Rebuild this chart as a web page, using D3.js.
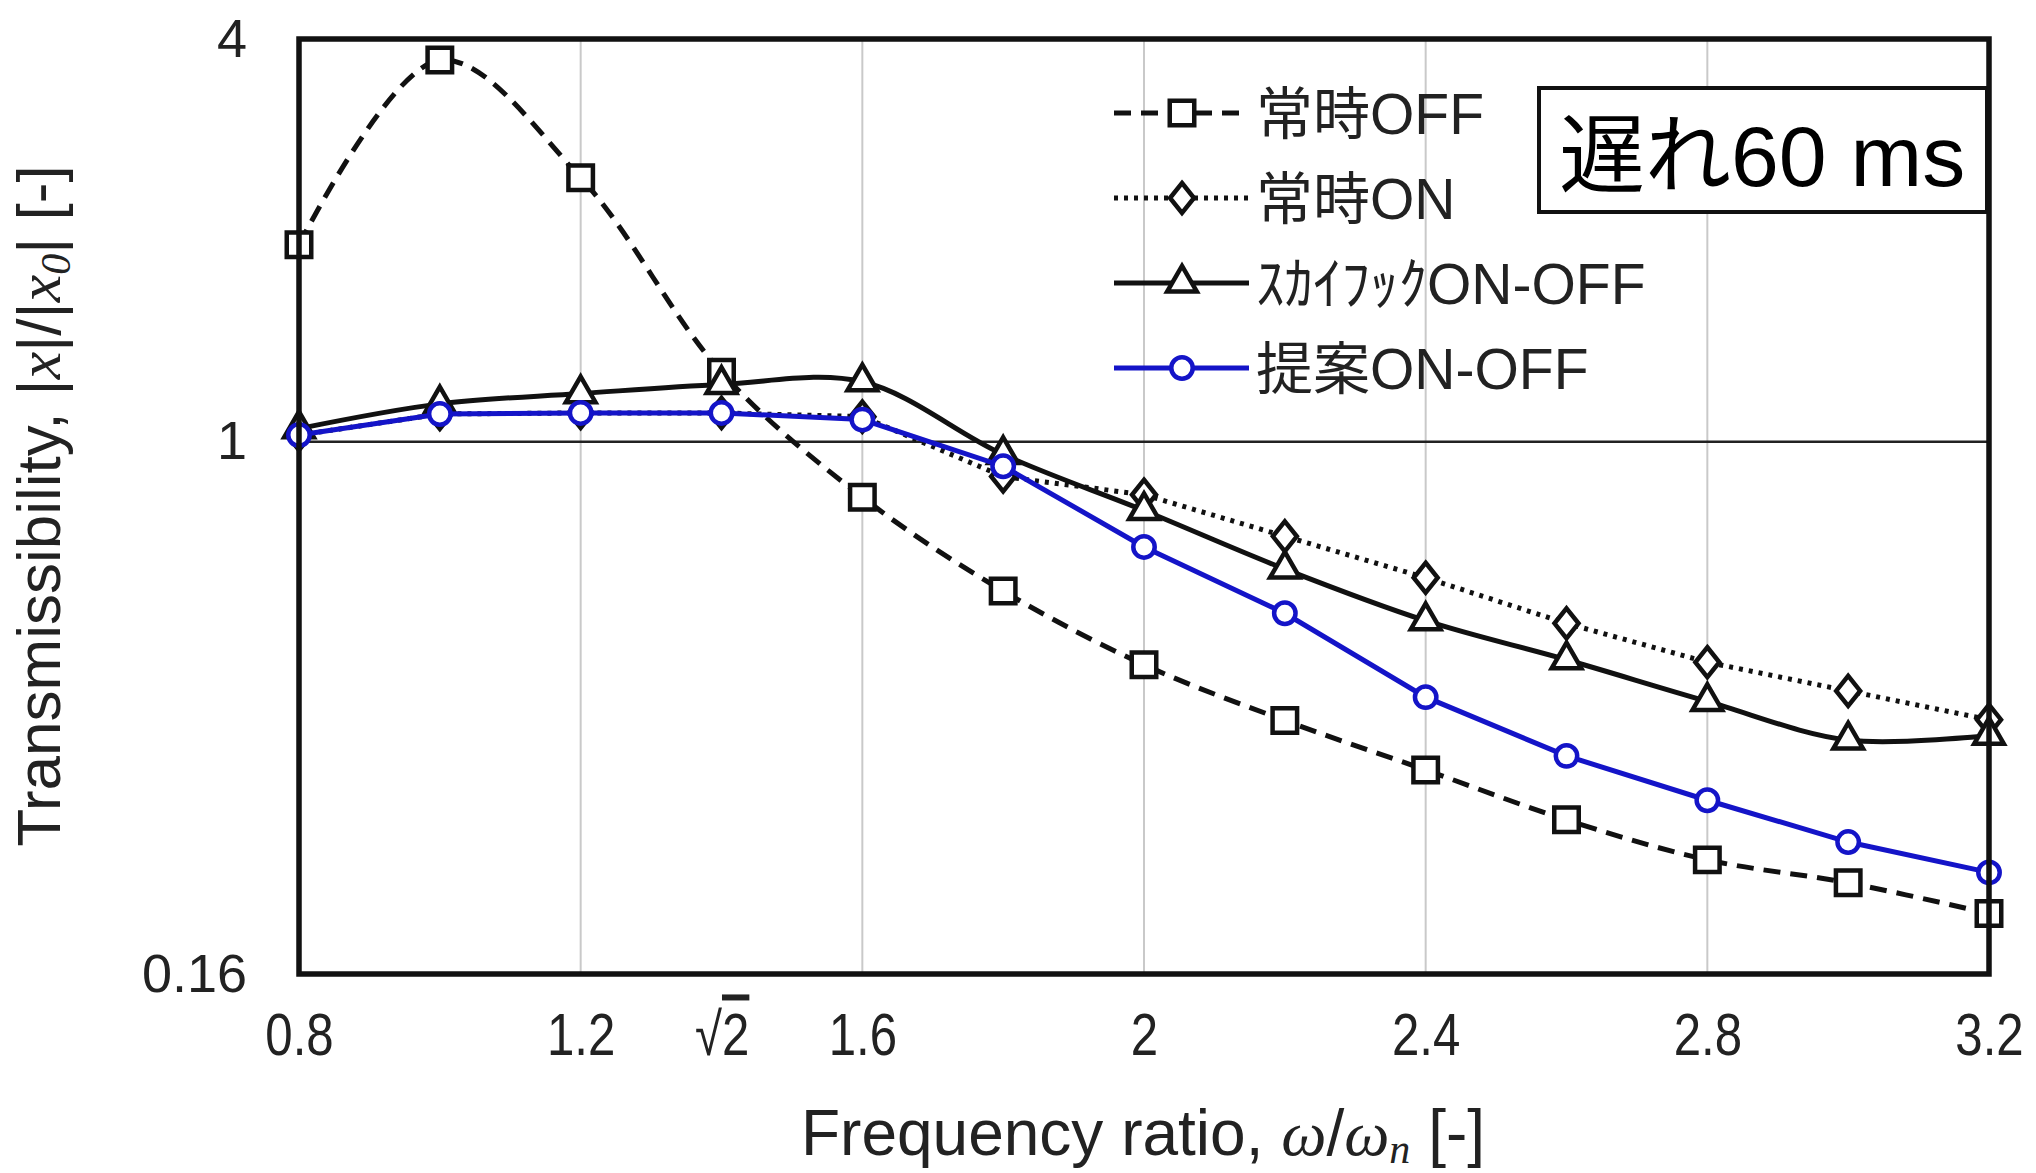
<!DOCTYPE html>
<html>
<head>
<meta charset="utf-8">
<script src="https://cdn.jsdelivr.net/npm/d3@7"></script>
<style>
  body { margin: 0; background: #fff; }
</style>
</head>
<body>
<div id="chart"></div>
<script>
// frequency ratio of each measured point
const ratios = [0.8, 1.0, 1.2, 1.4, 1.6, 1.8, 2.0, 2.2, 2.4, 2.6, 2.8, 3.0, 3.2];

// transmissibility |x|/|x0|
const alwaysOff = [1.97, 3.72, 2.48, 1.27, 0.826, 0.598, 0.464, 0.383, 0.323, 0.272, 0.237, 0.219, 0.197];
const alwaysOn  = [1.023, 1.10, 1.104, 1.104, 1.09, 0.887, 0.833, 0.722, 0.626, 0.535, 0.468, 0.424, 0.384];
const skyhook   = [1.046, 1.139, 1.18, 1.218, 1.229, 0.957, 0.789, 0.645, 0.540, 0.472, 0.409, 0.358, 0.364];
const proposed  = [1.023, 1.10, 1.104, 1.104, 1.079, 0.919, 0.696, 0.554, 0.415, 0.339, 0.291, 0.252, 0.227];

const seriesNames = ["常時OFF", "常時ON", "ｽｶｲﾌｯｸON-OFF", "提案ON-OFF"];
const xTicks = [0.8, 1.2, Math.SQRT2, 1.6, 2.0, 2.4, 2.8, 3.2];
const xGrid = [1.2, 1.6, 2.0, 2.4, 2.8];
const yTicks = [0.16, 1, 4];
const delayLabel = "遅れ60 ms";

const W = 2036, H = 1173;
const margin = {left: 299, right: 47, top: 39, bottom: 199};
const iw = W - margin.left - margin.right;
const ih = H - margin.top - margin.bottom;

const svg = d3.select("#chart").append("svg")
    .attr("width", W)
    .attr("height", H);

const g = svg.append("g")
    .attr("transform", `translate(${margin.left},${margin.top})`);

const x = d3.scaleLinear().domain([0.8, 3.2]).range([0, iw]);
const y = d3.scaleLog().domain([0.16, 4]).range([ih, 0]);

const blue = "#1414c8";
const sans = "'Liberation Sans', Arial, sans-serif";
const serif = "'Liberation Serif', 'Times New Roman', serif";

// taller-than-wide diamond like the original marker
const diamond = {
    draw(ctx, size) {
        const h = Math.sqrt(size / 0.8) / 2;
        const w = h * 0.8;
        ctx.moveTo(0, -h); ctx.lineTo(w, 0); ctx.lineTo(0, h); ctx.lineTo(-w, 0); ctx.closePath();
    }
};

// vertical grid lines
g.selectAll(".grid")
    .data(xGrid)
    .join("line")
    .attr("x1", d => x(d)).attr("x2", d => x(d))
    .attr("y1", 0).attr("y2", ih)
    .attr("stroke", "#c9c9c9")
    .attr("stroke-width", 2);

// reference line at 1
g.append("line")
    .attr("x1", 0).attr("x2", iw)
    .attr("y1", y(1)).attr("y2", y(1))
    .attr("stroke", "#222")
    .attr("stroke-width", 2.5);

// axes (labels only, frame is drawn as a rect)
const yAxis = g.append("g")
    .call(d3.axisLeft(y).tickValues(yTicks).tickSize(0).tickPadding(52)
        .tickFormat(d => d === 0.16 ? "0.16" : String(d)));
yAxis.select(".domain").remove();
yAxis.selectAll("text")
    .attr("font-family", sans)
    .attr("font-size", 54)
    .attr("fill", "#222");

const xAxis = g.append("g")
    .attr("transform", `translate(0,${ih})`)
    .call(d3.axisBottom(x).tickValues(xTicks).tickSize(0).tickPadding(38)
        .tickFormat(d => d === Math.SQRT2 ? "" : String(+d.toFixed(1))));
xAxis.select(".domain").remove();
xAxis.selectAll("text")
    .attr("font-family", sans)
    .attr("font-size", 60)
    .attr("transform", "scale(0.82,1)")
    .attr("fill", "#222");
// sqrt(2) label
const sq = xAxis.selectAll(".tick").filter(d => d === Math.SQRT2).select("text");
sq.append("tspan").text("√");
sq.append("tspan").text("2").style("text-decoration", "overline");
sq.attr("dx", -12);

// series
const series = [
    {name: seriesNames[0], values: alwaysOff, color: "#111", dash: "17,10", curve: d3.curveCatmullRom, symbol: d3.symbolSquare, size: 600},
    {name: seriesNames[1], values: alwaysOn, color: "#111", dash: "4,6", curve: d3.curveLinear, symbol: diamond, size: 720},
    {name: seriesNames[2], values: skyhook, color: "#111", dash: null, curve: d3.curveCatmullRom, symbol: d3.symbolTriangle, size: 380},
    {name: seriesNames[3], values: proposed, color: blue, dash: null, curve: d3.curveLinear, symbol: d3.symbolCircle, size: 360}
];

series.forEach(s => {
    const pts = ratios.map((r, i) => [r, s.values[i]]);
    const line = d3.line().x(d => x(d[0])).y(d => y(d[1])).curve(s.curve);
    g.append("path")
        .datum(pts)
        .attr("d", line)
        .attr("fill", "none")
        .attr("stroke", s.color)
        .attr("stroke-width", 5)
        .attr("stroke-dasharray", s.dash);
    g.selectAll(null)
        .data(pts)
        .join("path")
        .attr("transform", d => `translate(${x(d[0])},${y(d[1])})`)
        .attr("d", d3.symbol().type(s.symbol).size(s.size))
        .attr("fill", "#fff")
        .attr("stroke", s.color)
        .attr("stroke-width", 4.5);
});

// frame
g.append("rect")
    .attr("width", iw).attr("height", ih)
    .attr("fill", "none")
    .attr("stroke", "#111")
    .attr("stroke-width", 5.5);

// legend
const leg = g.append("g").attr("transform", `translate(${1114 - margin.left},${113 - margin.top})`);
series.forEach((s, i) => {
    const row = leg.append("g").attr("transform", `translate(0,${i * 85})`);
    row.append("line")
        .attr("x1", 0).attr("x2", 135)
        .attr("stroke", s.color)
        .attr("stroke-width", 5)
        .attr("stroke-dasharray", s.dash);
    row.append("path")
        .attr("transform", "translate(68,0)")
        .attr("d", d3.symbol().type(s.symbol).size(s.size))
        .attr("fill", "#fff")
        .attr("stroke", s.color)
        .attr("stroke-width", 4.5);
    row.append("text")
        .attr("x", 142)
        .attr("dy", "0.36em")
        .attr("font-family", "'Liberation Sans', 'Noto Sans CJK JP', sans-serif")
        .attr("font-size", 57)
        .attr("fill", "#222")
        .text(s.name);
});

// delay box
const box = g.append("g").attr("transform", `translate(${1539 - margin.left},${88 - margin.top})`);
box.append("rect")
    .attr("width", 448).attr("height", 124)
    .attr("fill", "#fff")
    .attr("stroke", "#111")
    .attr("stroke-width", 4);
box.append("text")
    .attr("x", 20).attr("y", 67)
    .attr("dy", "0.36em")
    .attr("font-family", "'Liberation Sans', 'Noto Sans CJK JP', sans-serif")
    .attr("font-size", 86)
    .attr("fill", "#000")
    .text(delayLabel);

// y title
const yt = svg.append("text")
    .attr("transform", `translate(60,${506}) rotate(-90)`)
    .attr("text-anchor", "middle")
    .attr("font-family", sans)
    .attr("font-size", 62)
    .attr("fill", "#222");
yt.append("tspan").text("Transmissibility, |");
yt.append("tspan").attr("font-family", serif).attr("font-style", "italic").text("x");
yt.append("tspan").text("|/|");
yt.append("tspan").attr("font-family", serif).attr("font-style", "italic").text("x");
yt.append("tspan").attr("font-family", serif).attr("font-style", "italic").attr("font-size", 42).attr("dy", 10).text("0");
yt.append("tspan").attr("dy", -10).text("| [-]");

// x title
const xt = svg.append("text")
    .attr("x", 1143).attr("y", 1155)
    .attr("text-anchor", "middle")
    .attr("font-family", sans)
    .attr("font-size", 64)
    .attr("fill", "#222");
xt.append("tspan").text("Frequency ratio, ");
xt.append("tspan").attr("font-family", serif).attr("font-style", "italic").text("ω");
xt.append("tspan").text("/");
xt.append("tspan").attr("font-family", serif).attr("font-style", "italic").text("ω");
xt.append("tspan").attr("font-family", serif).attr("font-style", "italic").attr("font-size", 42).attr("dy", 8).text("n");
xt.append("tspan").attr("dy", -8).text(" [-]");
</script>
</body>
</html>
